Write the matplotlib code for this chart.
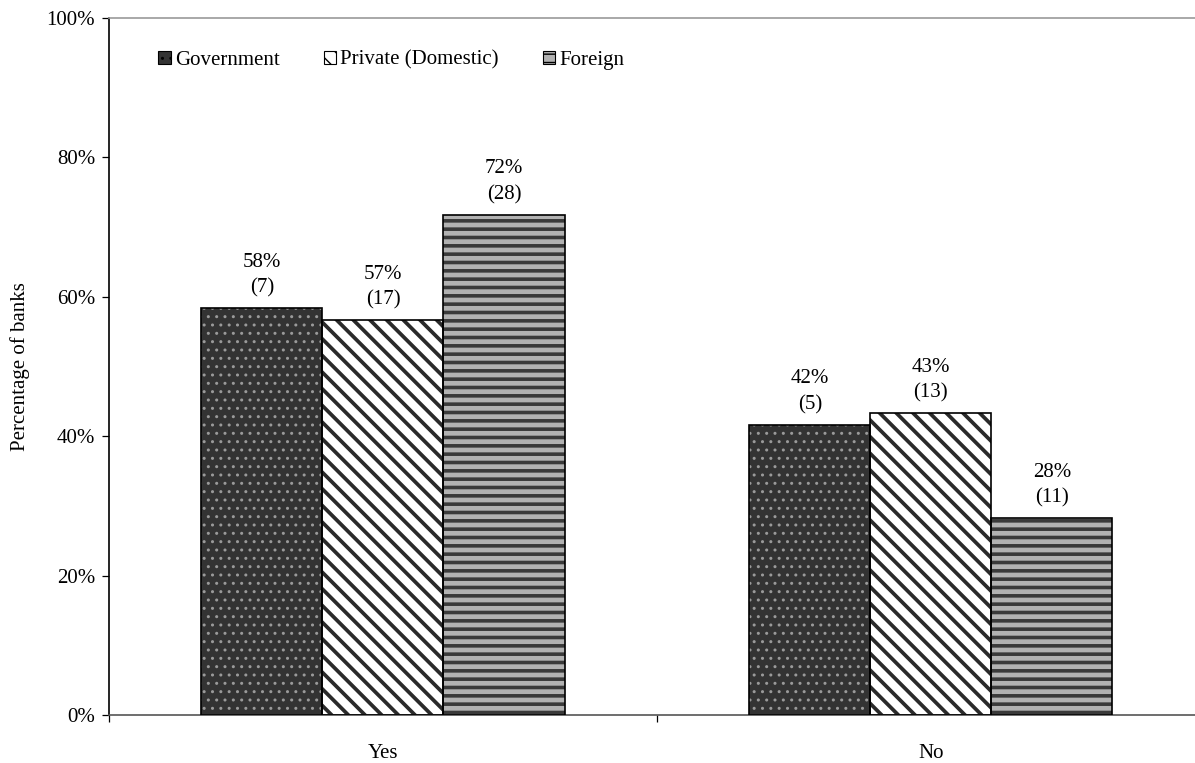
import matplotlib
matplotlib.use("Agg")
import matplotlib.pyplot as plt
from matplotlib.patches import Patch
import numpy as np

plt.rcParams['font.family'] = ['Liberation Serif', 'DejaVu Serif']

categories = ['Yes', 'No']
groups = ['Government', 'Private (Domestic)', 'Foreign']
counts = {
    'Government': [7, 5],
    'Private (Domestic)': [17, 13],
    'Foreign': [28, 11],
}
totals = {'Government': 12, 'Private (Domestic)': 30, 'Foreign': 39}

# fill, hatch, hatch colour, hatch width for each ownership type
styles = {
    'Government': ('#333333', '..', '#9a9a9a', 1.0),
    'Private (Domestic)': ('white', '\\\\', '#2a2a2a', 2.7),
    'Foreign': ('#b2b2b2', '--', '#3a3a3a', 2.6),
}

fs = 15

fig = plt.figure(figsize=(11.95, 7.63), dpi=100)
ax = fig.add_axes([0.0912, 0.0629, 0.917, 0.9135])

centers = np.arange(len(categories)) + 0.5
width = 0.221
offsets = [-width, 0, width]

for g, off in zip(groups, offsets):
    face, hatch, hcol, hlw = styles[g]
    pct = [100 * c / totals[g] for c in counts[g]]
    with plt.rc_context({'hatch.linewidth': hlw}):
        hb = ax.bar(centers + off, pct, width, color=face, hatch=hatch,
                    edgecolor=hcol, linewidth=0, zorder=2)
    for p in hb:
        if hasattr(p, 'set_hatch_linewidth'):
            p.set_hatch_linewidth(hlw)
    ax.bar(centers + off, pct, width, fill=False, edgecolor='black',
           linewidth=1.2, zorder=3)
    for x, v, c in zip(centers + off, pct, counts[g]):
        ax.text(x, v + 1.5, f'{v:.0f}%\n({c})', ha='center', va='bottom',
                fontsize=fs, linespacing=1.45)

ax.set_xlim(0, 2)
ax.set_ylim(0, 100)
ax.set_yticks(range(0, 101, 20))
ax.set_yticklabels([f'{t}%' for t in range(0, 101, 20)], fontsize=fs)
ax.set_xticks([0, 1, 2])
ax.set_xticklabels(['', '', ''])
ax.set_xticks(centers, minor=True)
ax.set_xticklabels(categories, minor=True, fontsize=fs)
ax.tick_params(axis='x', which='minor', length=0, pad=21)
ax.tick_params(axis='both', which='major', length=5, width=0.9, direction='out')
ax.tick_params(axis='y', pad=5)
ax.set_ylabel('Percentage of banks', fontsize=fs, labelpad=12)

ax.spines['left'].set_color('black')
ax.spines['bottom'].set_color('#555555')
ax.spines['top'].set_color('#999999')
ax.spines['right'].set_color('#999999')
for s in ax.spines.values():
    s.set_linewidth(1.2)

handles = []
for g in groups:
    face, hatch, hcol, hlw = styles[g]
    handles.append(Patch(facecolor=face, hatch=hatch, edgecolor='black', linewidth=0.8))
ax.legend(handles, groups, loc='upper left', ncol=3, frameon=False,
          fontsize=fs, bbox_to_anchor=(0.028, 0.98), handlelength=0.6,
          handleheight=0.6, handletextpad=0.2, columnspacing=2.1)

fig.savefig('out.png', dpi=100)
